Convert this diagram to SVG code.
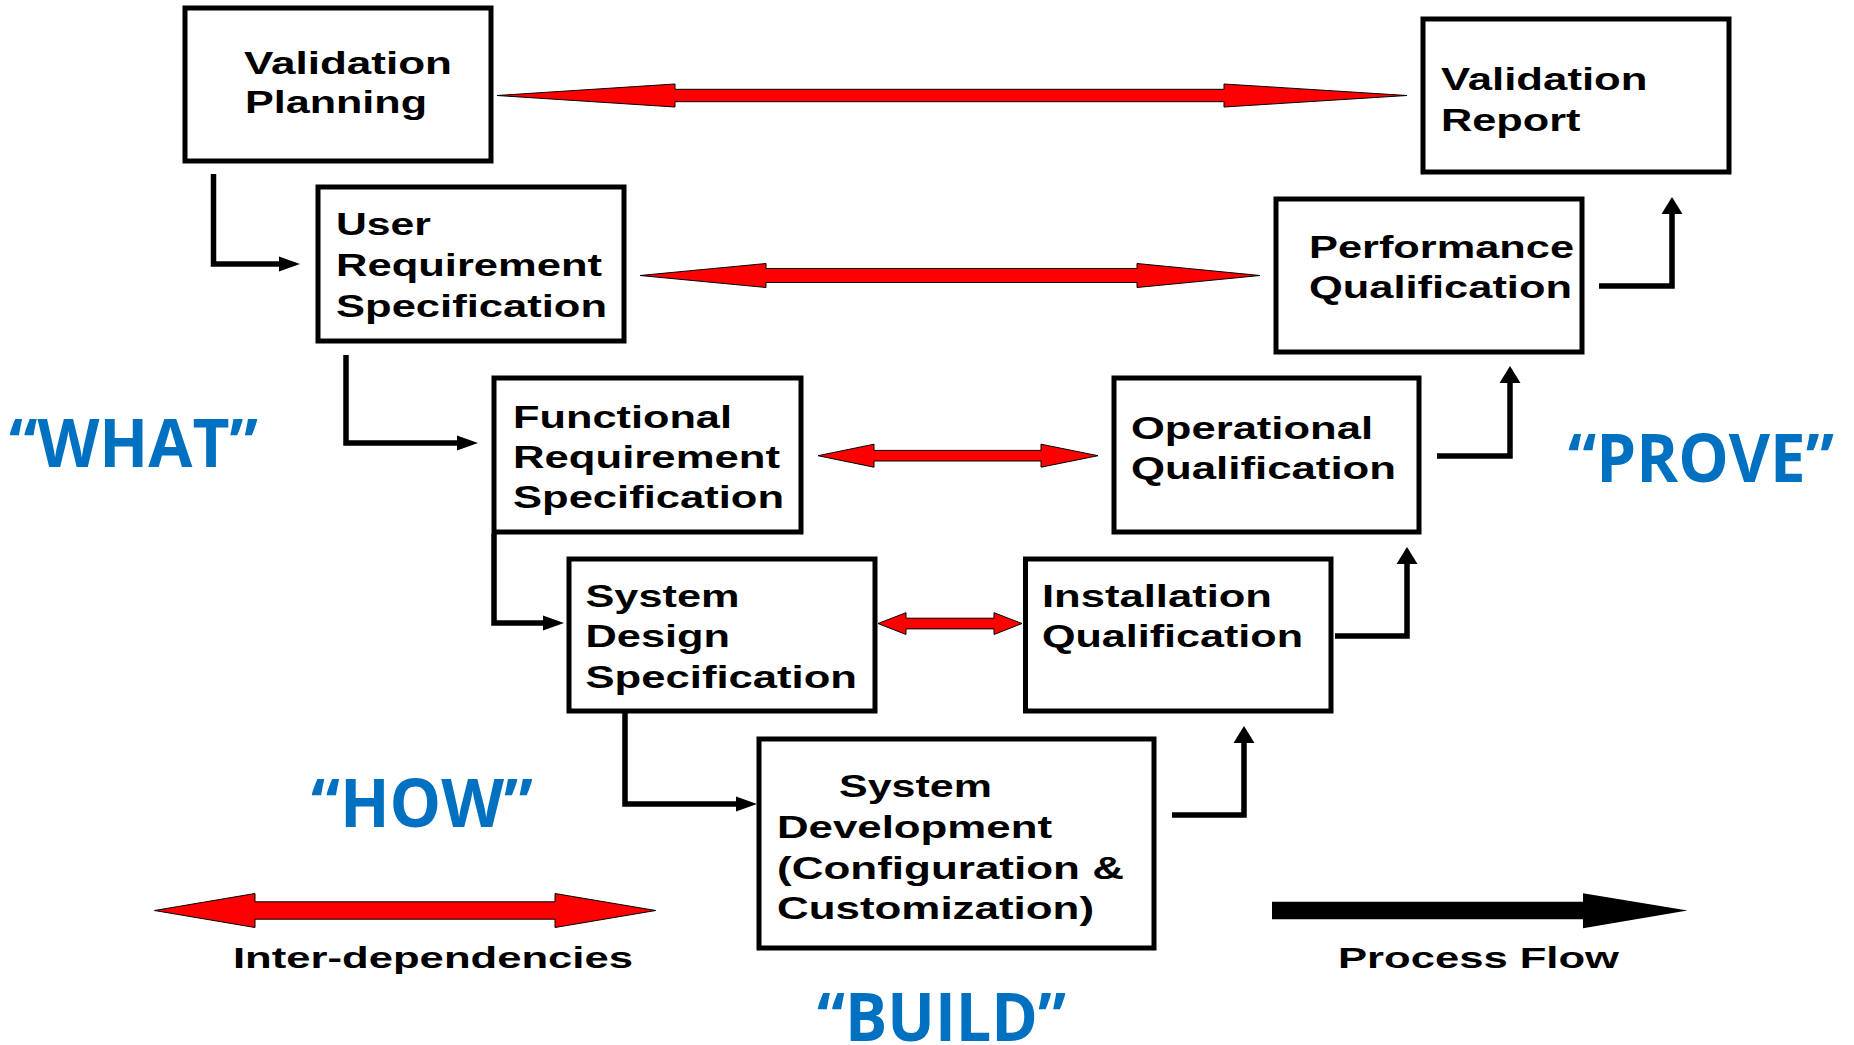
<svg xmlns="http://www.w3.org/2000/svg" width="1854" height="1045" viewBox="0 0 1854 1045">
  <style>
    .box { fill: #ffffff; stroke: #000000; stroke-width: 5; }
    .lbl { font-family: "Liberation Sans", Arial, sans-serif; font-weight: bold; font-size: 31px; fill: #000000; }
    .leg { font-family: "Liberation Sans", Arial, sans-serif; font-weight: bold; font-size: 30px; fill: #000000; }
    .tag { font-family: "Open Sans", "Liberation Sans", sans-serif; font-weight: bold; font-size: 66px; fill: #0070C0; }
    .flow { fill: none; stroke: #000000; stroke-width: 5.5; }
    .dep { fill: #FF0000; stroke: #000000; stroke-width: 1; stroke-linejoin: miter; }
  </style>
  <defs>
    <!-- heads for the black process connectors (horizontal ones are longer than wide) -->
    <marker id="headH" markerUnits="userSpaceOnUse" markerWidth="22" markerHeight="16" refX="0" refY="7.5" orient="auto" overflow="visible">
      <path d="M0,0 L21,7.5 L0,15 Z" fill="#000000"/>
    </marker>
    <marker id="headV" markerUnits="userSpaceOnUse" markerWidth="18" markerHeight="22" refX="0" refY="10.5" orient="auto" overflow="visible">
      <path d="M0,0 L17,10.5 L0,21 Z" fill="#000000"/>
    </marker>
  </defs>

  <rect width="1854" height="1045" fill="#ffffff"/>

  <!-- inter-dependency (red) double arrows and process-flow connectors -->
  <g id="connectors">
    <polygon class="dep" points="497,95.5 675,84 675,89.3 1224,89.3 1224,84 1407,95.5 1224,107 1224,101.7 675,101.7 675,107"/>
    <polygon class="dep" points="640,275.5 766,263.5 766,268.5 1137,268.5 1137,263.5 1260,275.5 1137,287.5 1137,282.5 766,282.5 766,287.5"/>
    <polygon class="dep" points="818,455.7 874,444.2 874,450.4 1041,450.4 1041,444.2 1098,455.7 1041,467.2 1041,461 874,461 874,467.2"/>
    <polygon class="dep" points="878,623.5 906,612.7 906,618.2 994,618.2 994,612.7 1022,623.5 994,634.5 994,628.9 906,628.9 906,634.5"/>

    <path class="flow" d="M213.5,174 V264 H279" marker-end="url(#headH)"/>
    <path class="flow" d="M346,355 V443 H457" marker-end="url(#headH)"/>
    <path class="flow" d="M494,534 V623 H543" marker-end="url(#headH)"/>
    <path class="flow" d="M625,713 V804 H736" marker-end="url(#headH)"/>

    <path class="flow" d="M1172,815 H1244 V743" marker-end="url(#headV)"/>
    <path class="flow" d="M1335,636 H1407 V564" marker-end="url(#headV)"/>
    <path class="flow" d="M1437,456 H1510 V383" marker-end="url(#headV)"/>
    <path class="flow" d="M1599,286 H1672 V214" marker-end="url(#headV)"/>
  </g>

  <g id="validation-planning">
    <rect class="box" x="185" y="8" width="306" height="153"/>
    <text class="lbl" x="244" y="74" textLength="208" lengthAdjust="spacingAndGlyphs">Validation</text>
    <text class="lbl" x="245" y="113" textLength="182" lengthAdjust="spacingAndGlyphs">Planning</text>
  </g>

  <g id="user-requirement-specification">
    <rect class="box" x="318" y="187" width="306" height="154"/>
    <text class="lbl" x="336" y="235" textLength="95" lengthAdjust="spacingAndGlyphs">User</text>
    <text class="lbl" x="336" y="276" textLength="266" lengthAdjust="spacingAndGlyphs">Requirement</text>
    <text class="lbl" x="336" y="317" textLength="271" lengthAdjust="spacingAndGlyphs">Specification</text>
  </g>

  <g id="functional-requirement-specification">
    <rect class="box" x="494" y="378" width="307" height="154"/>
    <text class="lbl" x="513" y="428" textLength="219" lengthAdjust="spacingAndGlyphs">Functional</text>
    <text class="lbl" x="513" y="468" textLength="267" lengthAdjust="spacingAndGlyphs">Requirement</text>
    <text class="lbl" x="513" y="508" textLength="271" lengthAdjust="spacingAndGlyphs">Specification</text>
  </g>

  <g id="system-design-specification">
    <rect class="box" x="569" y="559" width="306" height="152"/>
    <text class="lbl" x="585.5" y="607" textLength="154" lengthAdjust="spacingAndGlyphs">System</text>
    <text class="lbl" x="585.5" y="647" textLength="144.5" lengthAdjust="spacingAndGlyphs">Design</text>
    <text class="lbl" x="585.5" y="688" textLength="271.5" lengthAdjust="spacingAndGlyphs">Specification</text>
  </g>

  <g id="system-development">
    <rect class="box" x="759" y="739" width="395" height="209"/>
    <text class="lbl" x="839" y="797" textLength="153" lengthAdjust="spacingAndGlyphs">System</text>
    <text class="lbl" x="777" y="838" textLength="275" lengthAdjust="spacingAndGlyphs">Development</text>
    <text class="lbl" x="777" y="879" textLength="347" lengthAdjust="spacingAndGlyphs">(Configuration &amp;</text>
    <text class="lbl" x="777" y="919" textLength="317" lengthAdjust="spacingAndGlyphs">Customization)</text>
  </g>

  <g id="installation-qualification">
    <rect class="box" x="1025.5" y="559" width="305.5" height="152"/>
    <text class="lbl" x="1042" y="607" textLength="230" lengthAdjust="spacingAndGlyphs">Installation</text>
    <text class="lbl" x="1042" y="647" textLength="261" lengthAdjust="spacingAndGlyphs">Qualification</text>
  </g>

  <g id="operational-qualification">
    <rect class="box" x="1114" y="378" width="305" height="154"/>
    <text class="lbl" x="1131" y="439" textLength="242" lengthAdjust="spacingAndGlyphs">Operational</text>
    <text class="lbl" x="1131" y="479" textLength="265" lengthAdjust="spacingAndGlyphs">Qualification</text>
  </g>

  <g id="performance-qualification">
    <rect class="box" x="1276" y="199" width="306" height="153"/>
    <text class="lbl" x="1309" y="258" textLength="265" lengthAdjust="spacingAndGlyphs">Performance</text>
    <text class="lbl" x="1309" y="298" textLength="263" lengthAdjust="spacingAndGlyphs">Qualification</text>
  </g>

  <g id="validation-report">
    <rect class="box" x="1423" y="19" width="306" height="153"/>
    <text class="lbl" x="1441" y="90" textLength="206.5" lengthAdjust="spacingAndGlyphs">Validation</text>
    <text class="lbl" x="1441" y="131" textLength="139.5" lengthAdjust="spacingAndGlyphs">Report</text>
  </g>

  <!-- phase captions -->
  <g id="phase-labels">
    <text class="tag" x="9" y="467" textLength="249" lengthAdjust="spacingAndGlyphs">“WHAT”</text>
    <text class="tag" x="311" y="827" textLength="222" lengthAdjust="spacingAndGlyphs">“HOW”</text>
    <text class="tag" x="817" y="1041" font-size="68" textLength="249" lengthAdjust="spacingAndGlyphs">“BUILD”</text>
    <text class="tag" x="1568" y="482" textLength="266" lengthAdjust="spacingAndGlyphs">“PROVE”</text>
  </g>

  <!-- key -->
  <g id="legend">
    <polygon class="dep" points="154.5,910.5 255,893.5 255,901.8 555,901.8 555,893.5 655.7,910.5 555,927.5 555,919.2 255,919.2 255,927.5"/>
    <text class="leg" x="233" y="968" textLength="400" lengthAdjust="spacingAndGlyphs">Inter-dependencies</text>
    <polygon fill="#000000" points="1272,901.8 1583,901.8 1583,893.2 1687.5,910.5 1583,928.2 1583,919.2 1272,919.2"/>
    <text class="leg" x="1338" y="968" textLength="281" lengthAdjust="spacingAndGlyphs">Process Flow</text>
  </g>
</svg>
